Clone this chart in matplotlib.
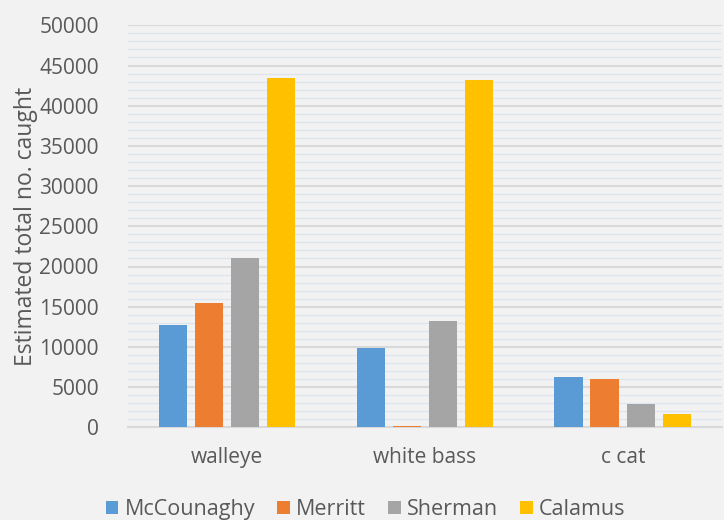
import numpy as np
import matplotlib.pyplot as plt
from matplotlib.ticker import MultipleLocator

# data
species = ['walleye', 'white bass', 'c cat']
mccounaghy = [12700, 9800, 6300]
merritt = [15500, 200, 6000]
sherman = [21000, 13200, 2900]
calamus = [43500, 43200, 1700]

series_names = ['McCounaghy', 'Merritt', 'Sherman', 'Calamus']
series_values = [mccounaghy, merritt, sherman, calamus]
colors = ['#5B9BD5', '#ED7D31', '#A5A5A5', '#FFC000']

plt.rcParams['font.family'] = ['Open Sans', 'DejaVu Sans']
text_color = '#595959'
bg = '#F2F2F2'

fig = plt.figure(figsize=(7.24, 5.2), dpi=100, facecolor=bg)
ax = fig.add_axes([0.1768, 0.1783, 0.8202, 0.773])
ax.set_facecolor(bg)

x = np.arange(len(species))
width = 0.145
step = 0.182
for i, (name, vals, c) in enumerate(zip(series_names, series_values, colors)):
    offset = (i - 1.5) * step
    ax.bar(x + offset, vals, width, color=c, label=name, zorder=3)

ax.set_xlim(-0.5, 2.5)
ax.set_ylim(0, 50000)
ax.yaxis.set_major_locator(MultipleLocator(5000))
ax.yaxis.set_minor_locator(MultipleLocator(1000))
ax.grid(axis='y', which='major', color='#D9D9D9', linewidth=1.5, zorder=1)
ax.grid(axis='y', which='minor', color='#DFE5EE', linewidth=1.0, zorder=0)

for s in ['top', 'right', 'left']:
    ax.spines[s].set_visible(False)
ax.spines['bottom'].set_color('#D9D9D9')
ax.spines['bottom'].set_linewidth(1.5)

ax.set_xticks(x)
ax.set_xticklabels(species)
ax.tick_params(axis='both', which='both', length=0, labelsize=15, colors=text_color)
ax.tick_params(axis='x', pad=14)
ax.tick_params(axis='y', pad=21)
ax.set_ylabel('Estimated total no. caught', fontsize=16.5, color=text_color, labelpad=1)

fig.legend(loc='center', bbox_to_anchor=(0.505, 0.02), ncol=4, frameon=False,
           fontsize=15.5, handlelength=0.6, handleheight=0.6, handletextpad=0.3,
           columnspacing=1.0, labelcolor=text_color)

fig.savefig('out.png', dpi=100, facecolor=bg)
